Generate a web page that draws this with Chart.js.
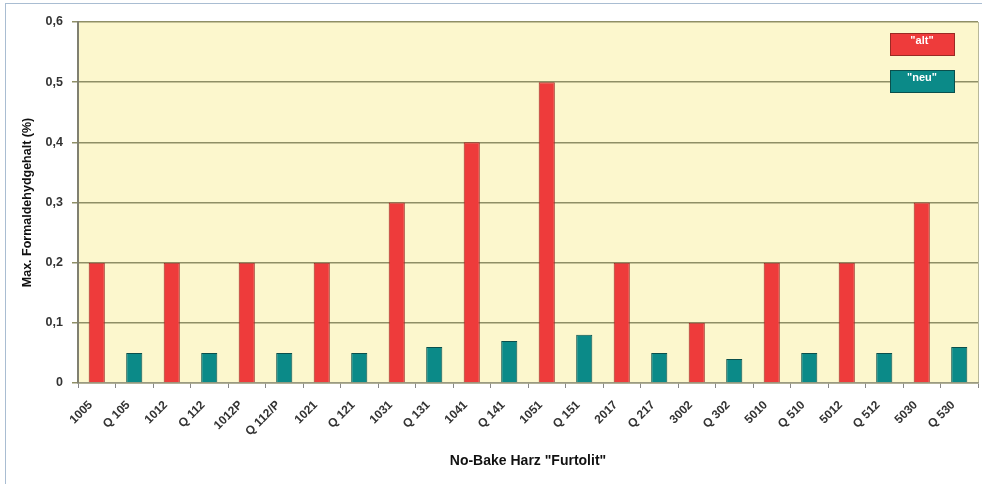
<!DOCTYPE html>
<html>
<head>
<meta charset="utf-8">
<script src="https://cdn.jsdelivr.net/npm/chart.js@4.4.1/dist/chart.umd.min.js"></script>
<style>
    body { margin: 0; background: #fff; }
    #wrap { position: relative; width: 982px; height: 484px; }
    #frame {
        position: absolute; left: 5px; top: 3px; right: 0; bottom: 0;
        border-left: 1px solid #a9bdd2; border-top: 1px solid #a9bdd2;
        pointer-events: none;
    }
</style>
</head>
<body>
<div id="wrap">
    <canvas id="myChartCanvas1" width="982" height="484"></canvas>
    <div id="frame"></div>
</div>
<script>
// Produktbezeichnungen (alt / neu abwechselnd)
const categorias = ['1005', 'Q 105', '1012', 'Q 112', '1012P', 'Q 112/P', '1021', 'Q 121',
    '1031', 'Q 131', '1041', 'Q 141', '1051', 'Q 151', '2017', 'Q 217',
    '3002', 'Q 302', '5010', 'Q 510', '5012', 'Q 512', '5030', 'Q 530'];

// Max. Formaldehydgehalt (%) - "alt"
const valoresAlt = [0.2, null, 0.2, null, 0.2, null, 0.2, null,
    0.3, null, 0.4, null, 0.5, null, 0.2, null,
    0.1, null, 0.2, null, 0.2, null, 0.3, null];

// Max. Formaldehydgehalt (%) - "neu"
const valoresNeu = [null, 0.05, null, 0.05, null, 0.05, null, 0.05,
    null, 0.06, null, 0.07, null, 0.08, null, 0.05,
    null, 0.04, null, 0.05, null, 0.05, null, 0.06];

const ticksY = [0, 0.1, 0.2, 0.3, 0.4, 0.5, 0.6];

const fundoPlot = {
    id: 'fundoPlot',
    beforeDraw(chart) {
        const { ctx, chartArea: a } = chart;
        ctx.save();
        ctx.fillStyle = '#fcf7cd';
        ctx.fillRect(a.left, a.top, a.right - a.left, a.bottom - a.top);
        ctx.strokeStyle = '#b8b89a';
        ctx.lineWidth = 1;
        ctx.beginPath();
        ctx.moveTo(a.right + 0.5, a.top);
        ctx.lineTo(a.right + 0.5, a.bottom);
        ctx.stroke();
        ctx.restore();
    }
};

// Legende als Kästchen mit Text innen
const legendaCaixa = {
    id: 'legendaCaixa',
    afterDraw(chart) {
        const { ctx } = chart;
        const caixas = [{ y: 33 }, { y: 70 }];
        ctx.save();
        chart.data.datasets.forEach((ds, i) => {
            const x = 890, y = caixas[i].y, w = 64, h = 22;
            ctx.fillStyle = ds.backgroundColor;
            ctx.fillRect(x, y, w, h);
            ctx.strokeStyle = ds.borderColor;
            ctx.lineWidth = 1;
            ctx.strokeRect(x + 0.5, y + 0.5, w, h);
            ctx.fillStyle = '#fff';
            ctx.font = 'bold 11px "Liberation Sans", Arial, sans-serif';
            ctx.textAlign = 'center';
            ctx.textBaseline = 'middle';
            ctx.fillText(ds.label, x + w / 2, y + h / 2 - 3);
        });
        ctx.restore();
    }
};

const fonte = '"Liberation Sans", Arial, sans-serif';

const config = {
    type: 'bar',
    data: {
        labels: categorias,
        datasets: [{
            label: '"alt"',
            data: valoresAlt,
            backgroundColor: '#ee3b3b',
            borderColor: '#9a2a24',
            borderWidth: 1,
            skipNull: true,
            categoryPercentage: 1,
            barPercentage: 0.43
        }, {
            label: '"neu"',
            data: valoresNeu,
            backgroundColor: '#0b8a88',
            borderColor: '#0a4f4c',
            borderWidth: 1,
            skipNull: true,
            categoryPercentage: 1,
            barPercentage: 0.43
        }]
    },
    options: {
        responsive: false,
        animation: false,
        layout: { padding: { top: 22, right: 4, left: 0, bottom: 0 } },
        scales: {
            x: {
                afterFit(scale) { scale.height = 101; },
                grid: {
                    drawOnChartArea: false,
                    color: '#888',
                    tickLength: 5
                },
                border: { color: '#9a9a80', width: 1.5 },
                ticks: {
                    color: '#333',
                    minRotation: 45,
                    maxRotation: 45,
                    padding: 10,
                    labelOffset: -6,
                    font: { family: fonte, size: 12, weight: 'bold' }
                },
                title: {
                    display: true,
                    text: 'No-Bake Harz "Furtolit"',
                    color: '#111',
                    padding: { top: 0, bottom: 14 },
                    font: { family: fonte, size: 14, weight: 'bold' }
                }
            },
            y: {
                min: 0,
                max: 0.6,
                afterFit(scale) { scale.width = 78; },
                afterBuildTicks(scale) {
                    scale.ticks = ticksY.map(v => ({ value: v }));
                },
                grid: {
                    color: '#8f8f66',
                    lineWidth: 1.5,
                    tickLength: 6
                },
                border: { color: '#808070', width: 2 },
                ticks: {
                    color: '#333',
                    padding: 9,
                    font: { family: fonte, size: 12.5, weight: 'bold' },
                    callback: v => v === 0 ? '0' : v.toFixed(1).replace('.', ',')
                },
                title: {
                    display: true,
                    text: 'Max. Formaldehydgehalt (%)',
                    color: '#111',
                    padding: { top: 20, bottom: 0 },
                    font: { family: fonte, size: 12.5, weight: 'bold' }
                }
            }
        },
        plugins: {
            legend: { display: false },
            tooltip: { enabled: false }
        }
    },
    plugins: [fundoPlot, legendaCaixa]
};

new Chart(document.getElementById('myChartCanvas1'), config);
</script>
</body>
</html>
